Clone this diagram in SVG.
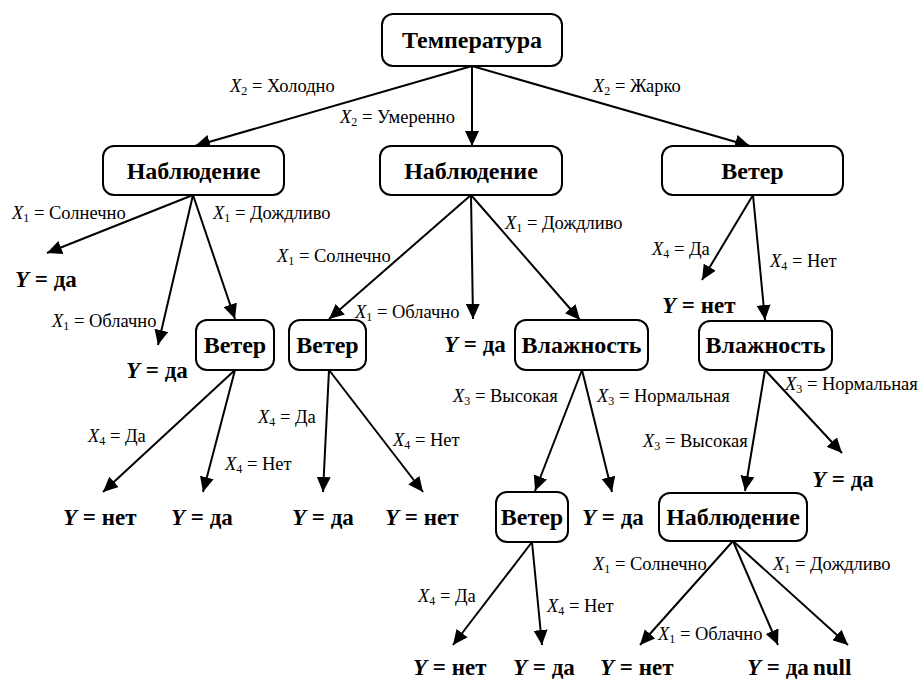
<svg xmlns="http://www.w3.org/2000/svg" width="919" height="680" viewBox="0 0 919 680">
  <defs>
    <marker id="arrow" markerUnits="userSpaceOnUse" markerWidth="16" markerHeight="14" refX="15" refY="7" orient="auto">
      <path d="M0,0 L15,7 L0,14 z" fill="#000"/>
    </marker>
    <style>
      text { font-family: "Liberation Serif", Tinos, "Times New Roman", Times, "DejaVu Serif", serif; fill: #000; }
      .box { fill: #fff; stroke: #000; stroke-width: 2; }
      .name { font-weight: bold; font-size: 24px; text-anchor: middle; }
      .edge { stroke: #000; stroke-width: 2; fill: none; marker-end: url(#arrow); }
      .el { font-size: 18.5px; }
      .el .v { font-style: italic; }
      .el .sub { font-size: 12px; }
      .leaf { font-weight: bold; font-size: 23px; }
      .leaf .v { font-style: italic; }
    </style>
  </defs>
  <rect width="919" height="680" fill="#fff"/>

  <!-- connectors -->
  <g id="connectors">
    <line class="edge" x1="472" y1="66" x2="195" y2="146"/>
    <line class="edge" x1="472" y1="66" x2="472" y2="146"/>
    <line class="edge" x1="472" y1="66" x2="750" y2="146"/>

    <line class="edge" x1="193" y1="195" x2="47" y2="253"/>
    <line class="edge" x1="193" y1="195" x2="158" y2="345"/>
    <line class="edge" x1="193" y1="195" x2="235" y2="319"/>

    <line class="edge" x1="471" y1="195" x2="329" y2="319"/>
    <line class="edge" x1="471" y1="195" x2="473" y2="319"/>
    <line class="edge" x1="471" y1="195" x2="580" y2="320"/>

    <line class="edge" x1="753" y1="195" x2="702" y2="280"/>
    <line class="edge" x1="753" y1="195" x2="765" y2="320"/>

    <line class="edge" x1="235" y1="370" x2="103" y2="492"/>
    <line class="edge" x1="235" y1="370" x2="203" y2="492"/>

    <line class="edge" x1="329" y1="370" x2="323" y2="492"/>
    <line class="edge" x1="329" y1="370" x2="423" y2="492"/>

    <line class="edge" x1="582" y1="370" x2="535" y2="491"/>
    <line class="edge" x1="582" y1="370" x2="612" y2="492"/>

    <line class="edge" x1="765" y1="370" x2="745" y2="491"/>
    <line class="edge" x1="765" y1="370" x2="842" y2="453"/>

    <line class="edge" x1="532" y1="542" x2="453" y2="645"/>
    <line class="edge" x1="532" y1="542" x2="542" y2="645"/>

    <line class="edge" x1="733" y1="541" x2="640" y2="645"/>
    <line class="edge" x1="733" y1="541" x2="778" y2="645"/>
    <line class="edge" x1="733" y1="541" x2="848" y2="645"/>
  </g>

  <!-- edge labels -->
  <g id="edge-labels">
    <text class="el" x="230" y="92"><tspan class="v">X</tspan><tspan class="sub" dy="3">2</tspan><tspan dy="-3"> = Холодно</tspan></text>
    <text class="el" x="340" y="123"><tspan class="v">X</tspan><tspan class="sub" dy="3">2</tspan><tspan dy="-3"> = Умеренно</tspan></text>
    <text class="el" x="593" y="92"><tspan class="v">X</tspan><tspan class="sub" dy="3">2</tspan><tspan dy="-3"> = Жарко</tspan></text>

    <text class="el" x="12" y="219"><tspan class="v">X</tspan><tspan class="sub" dy="3">1</tspan><tspan dy="-3"> = Солнечно</tspan></text>
    <text class="el" x="213" y="219"><tspan class="v">X</tspan><tspan class="sub" dy="3">1</tspan><tspan dy="-3"> = Дождливо</tspan></text>
    <text class="el" x="52" y="327"><tspan class="v">X</tspan><tspan class="sub" dy="3">1</tspan><tspan dy="-3"> = Облачно</tspan></text>

    <text class="el" x="277" y="262"><tspan class="v">X</tspan><tspan class="sub" dy="3">1</tspan><tspan dy="-3"> = Солнечно</tspan></text>
    <text class="el" x="355" y="318"><tspan class="v">X</tspan><tspan class="sub" dy="3">1</tspan><tspan dy="-3"> = Облачно</tspan></text>
    <text class="el" x="505" y="229"><tspan class="v">X</tspan><tspan class="sub" dy="3">1</tspan><tspan dy="-3"> = Дождливо</tspan></text>

    <text class="el" x="652" y="255"><tspan class="v">X</tspan><tspan class="sub" dy="3">4</tspan><tspan dy="-3"> = Да</tspan></text>
    <text class="el" x="770" y="267"><tspan class="v">X</tspan><tspan class="sub" dy="3">4</tspan><tspan dy="-3"> = Нет</tspan></text>

    <text class="el" x="88" y="442"><tspan class="v">X</tspan><tspan class="sub" dy="3">4</tspan><tspan dy="-3"> = Да</tspan></text>
    <text class="el" x="225" y="470"><tspan class="v">X</tspan><tspan class="sub" dy="3">4</tspan><tspan dy="-3"> = Нет</tspan></text>
    <text class="el" x="258" y="423"><tspan class="v">X</tspan><tspan class="sub" dy="3">4</tspan><tspan dy="-3"> = Да</tspan></text>
    <text class="el" x="393" y="446"><tspan class="v">X</tspan><tspan class="sub" dy="3">4</tspan><tspan dy="-3"> = Нет</tspan></text>

    <text class="el" x="453" y="402"><tspan class="v">X</tspan><tspan class="sub" dy="3">3</tspan><tspan dy="-3"> = Высокая</tspan></text>
    <text class="el" x="597" y="402"><tspan class="v">X</tspan><tspan class="sub" dy="3">3</tspan><tspan dy="-3"> = Нормальная</tspan></text>
    <text class="el" x="643" y="447"><tspan class="v">X</tspan><tspan class="sub" dy="3">3</tspan><tspan dy="-3"> = Высокая</tspan></text>
    <text class="el" x="785" y="390"><tspan class="v">X</tspan><tspan class="sub" dy="3">3</tspan><tspan dy="-3"> = Нормальная</tspan></text>

    <text class="el" x="418" y="602"><tspan class="v">X</tspan><tspan class="sub" dy="3">4</tspan><tspan dy="-3"> = Да</tspan></text>
    <text class="el" x="547" y="612"><tspan class="v">X</tspan><tspan class="sub" dy="3">4</tspan><tspan dy="-3"> = Нет</tspan></text>

    <text class="el" x="593" y="570"><tspan class="v">X</tspan><tspan class="sub" dy="3">1</tspan><tspan dy="-3"> = Солнечно</tspan></text>
    <text class="el" x="773" y="570"><tspan class="v">X</tspan><tspan class="sub" dy="3">1</tspan><tspan dy="-3"> = Дождливо</tspan></text>
    <text class="el" x="658" y="640"><tspan class="v">X</tspan><tspan class="sub" dy="3">1</tspan><tspan dy="-3"> = Облачно</tspan></text>
  </g>

  <!-- decision nodes -->
  <g id="n-temp"><rect class="box" x="382" y="14" width="180" height="52" rx="11"/><text class="name" x="472" y="48">Температура</text></g>
  <g id="n-obs-cold"><rect class="box" x="103" y="146" width="181" height="49" rx="11"/><text class="name" x="193.5" y="179">Наблюдение</text></g>
  <g id="n-obs-mild"><rect class="box" x="380" y="146" width="182" height="49" rx="11"/><text class="name" x="471" y="179">Наблюдение</text></g>
  <g id="n-wind-hot"><rect class="box" x="662" y="146" width="181" height="49" rx="11"/><text class="name" x="752.5" y="179">Ветер</text></g>
  <g id="n-wind-a"><rect class="box" x="196" y="320" width="78" height="50" rx="11"/><text class="name" x="235" y="353">Ветер</text></g>
  <g id="n-wind-b"><rect class="box" x="289" y="320" width="77" height="50" rx="11"/><text class="name" x="327.5" y="353">Ветер</text></g>
  <g id="n-hum-a"><rect class="box" x="515" y="320" width="133" height="50" rx="11"/><text class="name" x="581.5" y="353">Влажность</text></g>
  <g id="n-hum-b"><rect class="box" x="699" y="321" width="133" height="49" rx="11"/><text class="name" x="765.5" y="353">Влажность</text></g>
  <g id="n-wind-c"><rect class="box" x="496" y="492" width="72" height="50" rx="11"/><text class="name" x="532" y="525">Ветер</text></g>
  <g id="n-obs-c"><rect class="box" x="659" y="493" width="148" height="48" rx="11"/><text class="name" x="733" y="525">Наблюдение</text></g>

  <!-- leaves -->
  <g id="leaves">
    <text class="leaf" x="15" y="287"><tspan class="v">Y</tspan> = да</text>
    <text class="leaf" x="126" y="378"><tspan class="v">Y</tspan> = да</text>
    <text class="leaf" x="444" y="352"><tspan class="v">Y</tspan> = да</text>
    <text class="leaf" x="662" y="313"><tspan class="v">Y</tspan> = нет</text>
    <text class="leaf" x="63" y="525"><tspan class="v">Y</tspan> = нет</text>
    <text class="leaf" x="171" y="525"><tspan class="v">Y</tspan> = да</text>
    <text class="leaf" x="292" y="525"><tspan class="v">Y</tspan> = да</text>
    <text class="leaf" x="385" y="525"><tspan class="v">Y</tspan> = нет</text>
    <text class="leaf" x="582" y="525"><tspan class="v">Y</tspan> = да</text>
    <text class="leaf" x="812" y="487"><tspan class="v">Y</tspan> = да</text>
    <text class="leaf" x="413" y="675"><tspan class="v">Y</tspan> = нет</text>
    <text class="leaf" x="513" y="675"><tspan class="v">Y</tspan> = да</text>
    <text class="leaf" x="600" y="675"><tspan class="v">Y</tspan> = нет</text>
    <text class="leaf" x="747" y="675"><tspan class="v">Y</tspan> = да</text>
    <text class="leaf" x="813" y="675">null</text>
  </g>
</svg>
